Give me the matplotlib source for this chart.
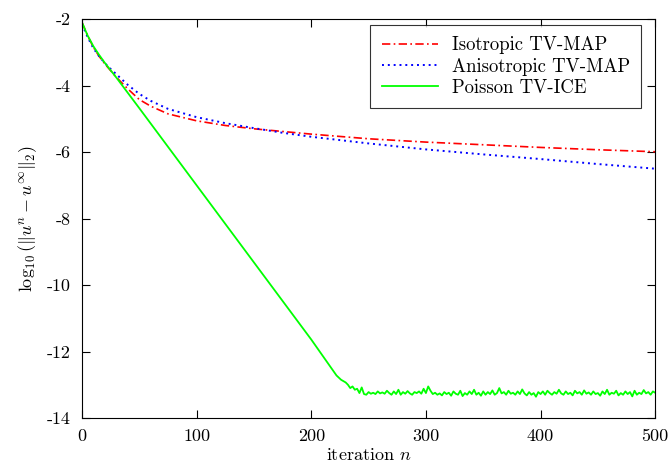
import numpy as np
import matplotlib.pyplot as plt

plt.rcParams['font.family'] = 'serif'
plt.rcParams['font.serif'] = ['cmr10']
plt.rcParams['mathtext.fontset'] = 'cm'
plt.rcParams['axes.unicode_minus'] = False

# Isotropic TV-MAP
iso_n = [0, 5, 10, 15, 20, 25, 30, 40, 50, 60, 75, 100, 125, 150, 175, 200, 250, 300, 350, 400, 450, 500]
iso_v = [-2.1, -2.5, -2.85, -3.12, -3.35, -3.55, -3.75, -4.1, -4.42, -4.62, -4.85, -5.06, -5.2, -5.3, -5.38, -5.46, -5.6, -5.7, -5.78, -5.86, -5.93, -5.99]

# Anisotropic TV-MAP
ani_n = [0, 5, 10, 15, 20, 25, 30, 40, 50, 60, 75, 100, 125, 150, 175, 200, 250, 300, 350, 400, 450, 500]
ani_v = [-2.15, -2.55, -2.88, -3.12, -3.33, -3.5, -3.66, -3.98, -4.25, -4.46, -4.7, -4.95, -5.13, -5.28, -5.42, -5.54, -5.74, -5.92, -6.07, -6.21, -6.36, -6.5]

# Poisson TV-ICE
ice_n = [0, 5, 10, 15, 20, 25, 30, 50, 100, 150, 200, 222, 226, 230, 232]
ice_v = [-2.1, -2.5, -2.82, -3.08, -3.32, -3.54, -3.76, -4.68, -7.0, -9.32, -11.64, -12.72, -12.85, -12.93, -13.0]
ice_tail = [-13.1, -13.05, -13.15, -13.12, -13.25, -13.08, -13.28, -13.3, -13.22, -13.27,
            -13.24, -13.28, -13.2, -13.26, -13.23, -13.27, -13.18, -13.25, -13.3, -13.2,
            -13.28, -13.15, -13.3, -13.22, -13.27, -13.19, -13.26, -13.3, -13.22, -13.25,
            -13.2, -13.27, -13.12, -13.25, -13.05, -13.18, -13.28, -13.24, -13.3, -13.26,
            -13.32, -13.22, -13.28, -13.24, -13.33, -13.2, -13.27, -13.3, -13.18, -13.34,
            -13.25, -13.3, -13.2, -13.28, -13.15, -13.3, -13.24, -13.33, -13.2, -13.3,
            -13.22, -13.28, -13.17, -13.3, -13.25, -13.1, -13.26, -13.22, -13.3, -13.18,
            -13.27, -13.24, -13.3, -13.2, -13.28, -13.14, -13.26, -13.32, -13.22, -13.3,
            -13.25, -13.36, -13.22, -13.28, -13.2, -13.3, -13.18, -13.25, -13.3, -13.22,
            -13.27, -13.15, -13.26, -13.3, -13.2, -13.28, -13.24, -13.32, -13.18, -13.26,
            -13.22, -13.3, -13.17, -13.27, -13.23, -13.3, -13.2, -13.28, -13.25, -13.33,
            -13.2, -13.28, -13.15, -13.3, -13.24, -13.27, -13.18, -13.32, -13.25, -13.3,
            -13.2, -13.28, -13.22, -13.35, -13.18, -13.3, -13.24, -13.28, -13.16, -13.26,
            -13.22, -13.3, -13.2, -13.24]
tail_n = list(range(234, 501, 2))

fig = plt.figure(figsize=(6.72, 4.66), dpi=100)
ax = fig.add_axes([0.122, 0.103, 0.853, 0.856])

ax.plot(iso_n, iso_v, color='red', linestyle=(0, (5, 2, 1, 2)), lw=1.2, label='Isotropic TV-MAP')
ax.plot(ani_n, ani_v, color='blue', linestyle=(0, (1, 2)), lw=1.4, label='Anisotropic TV-MAP')
ax.plot(ice_n + tail_n, ice_v + ice_tail, color='#00ff00', lw=1.3, label='Poisson TV-ICE')

ax.set_xlim(0, 500)
ax.set_ylim(-14, -2)
ax.set_xticks([0, 100, 200, 300, 400, 500])
ax.set_xticklabels(['0', '100', '200', '300', '400', '500'])
yt = [-14, -12, -10, -8, -6, -4, -2]
ax.set_yticks(yt)
ax.set_yticklabels([str(v) for v in yt])
ax.tick_params(direction='in', top=True, right=True, length=6, width=0.8, labelsize=13, pad=8)

ax.set_xlabel('iteration $n$', fontsize=13, labelpad=2)
ax.set_ylabel(r'$\log_{10}(\|u^n - u^{\infty}\|_2)$', fontsize=13, labelpad=6)

leg = ax.legend(loc='upper right', bbox_to_anchor=(0.9756, 0.985), fontsize=13.5, frameon=True,
                fancybox=False, edgecolor='black', borderaxespad=0, borderpad=0.6,
                handlelength=3.0, handletextpad=0.75, labelspacing=0.18)
leg.get_frame().set_linewidth(0.8)

fig.savefig('out.png', dpi=100)
